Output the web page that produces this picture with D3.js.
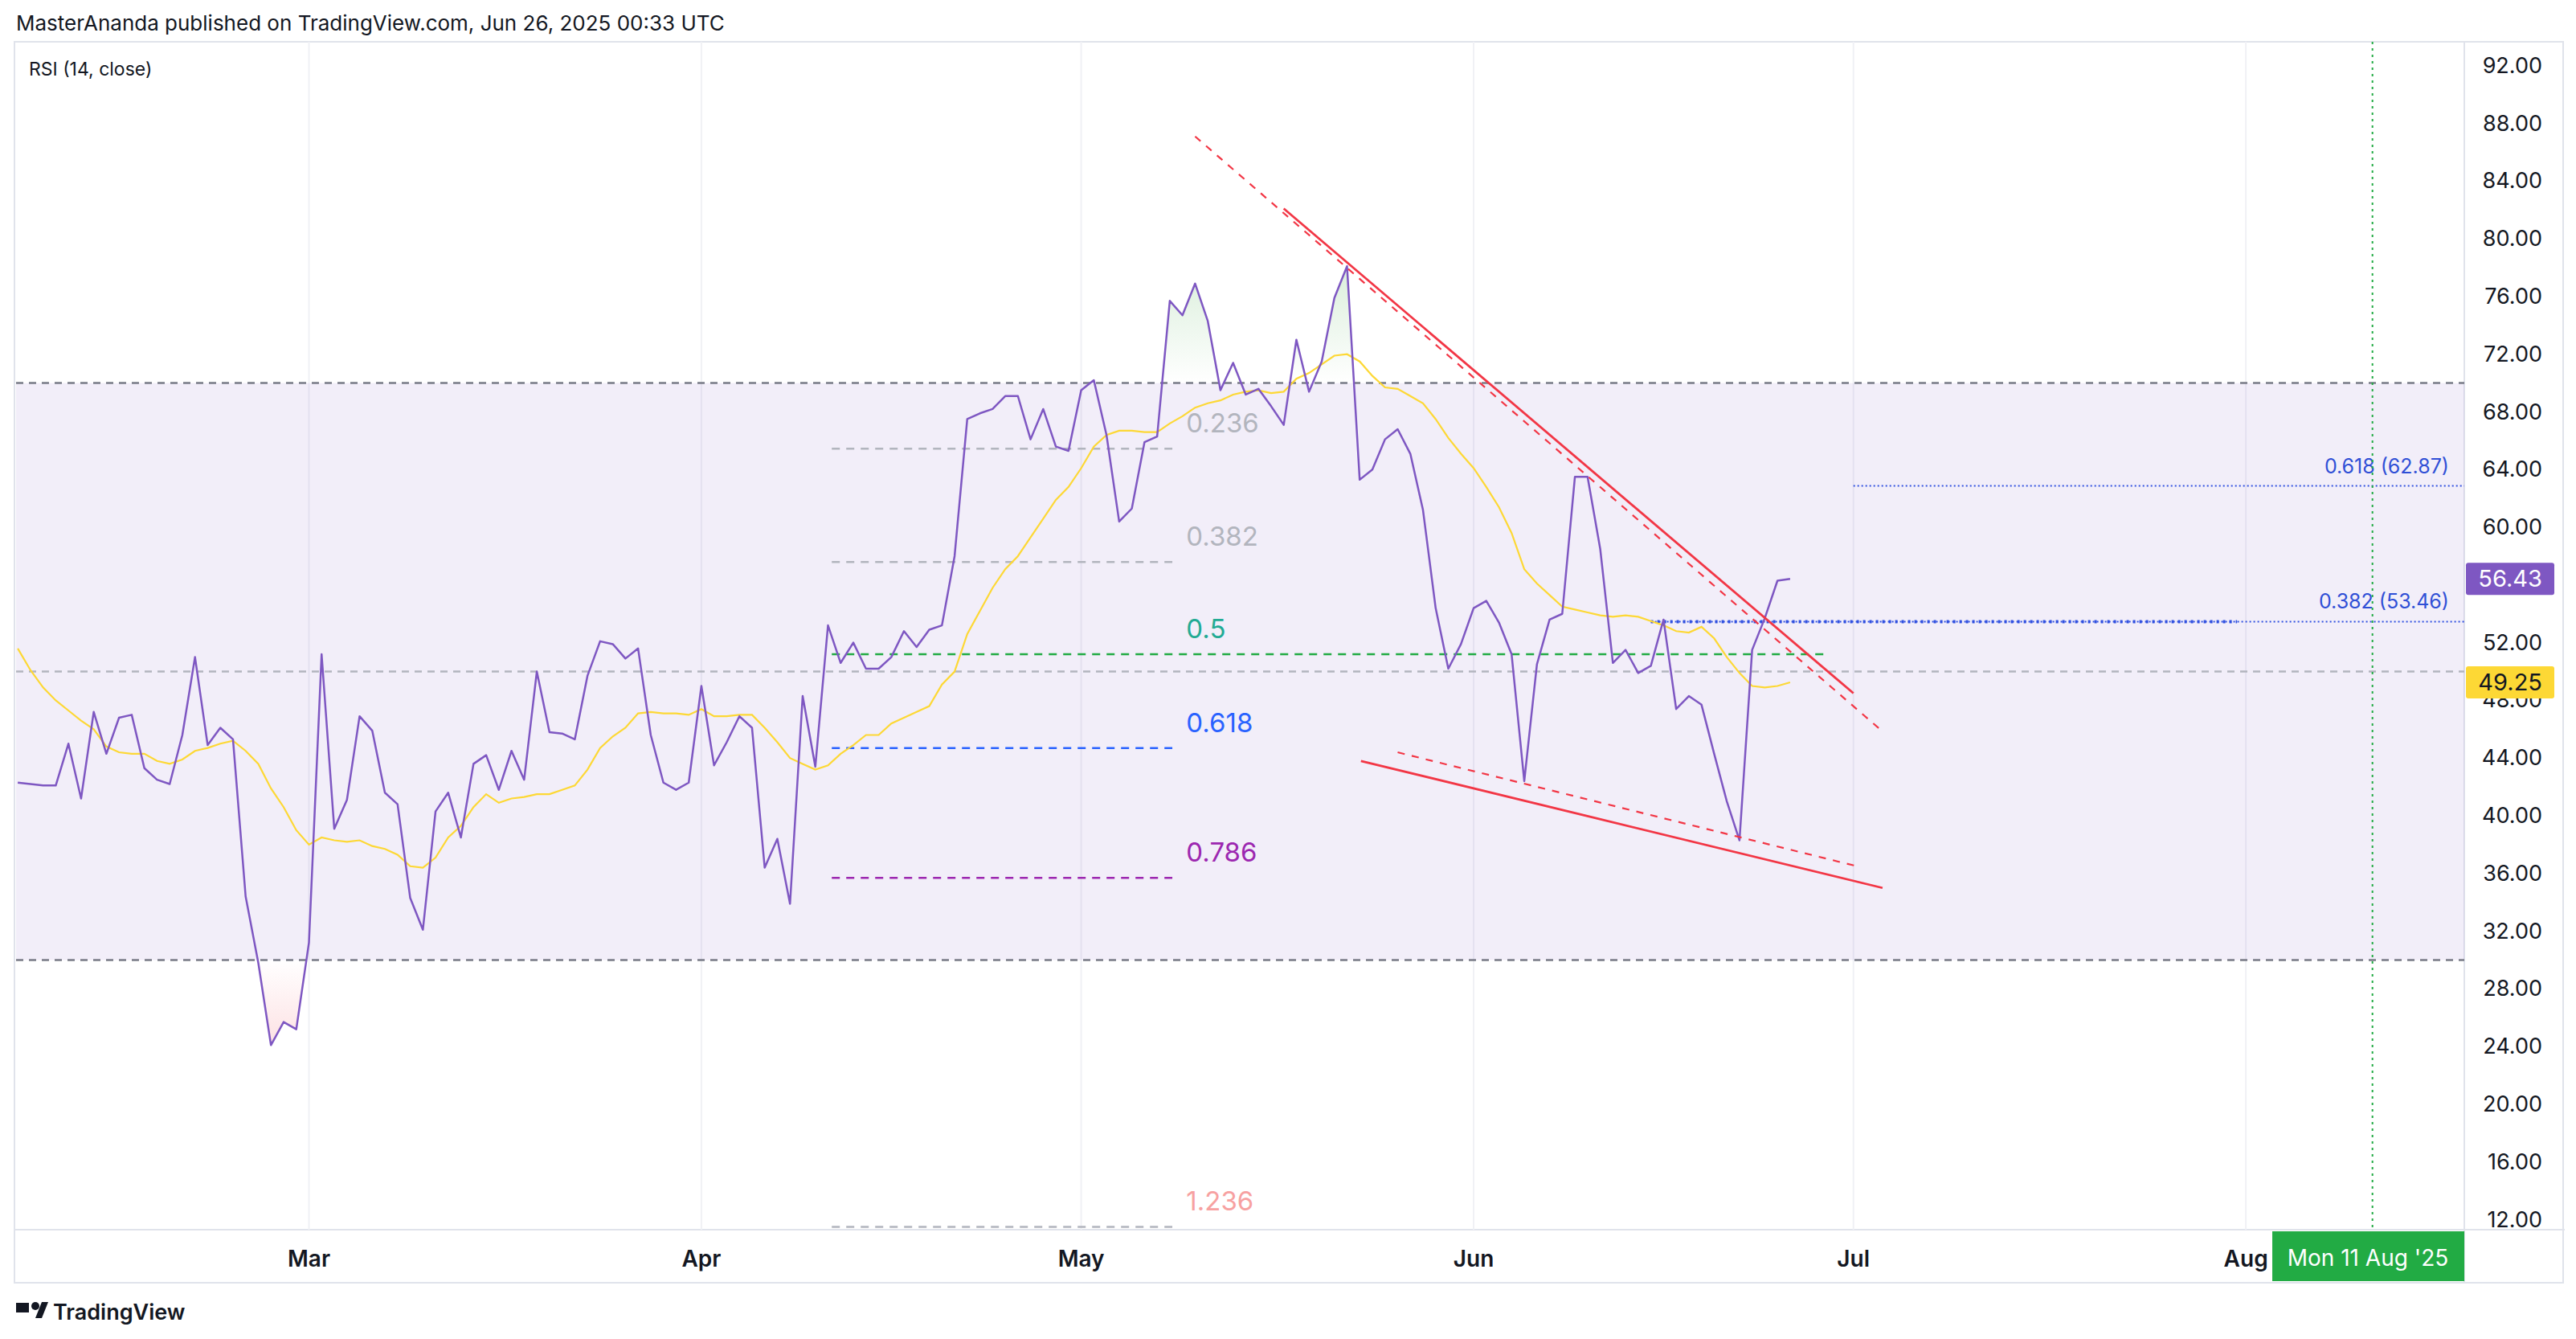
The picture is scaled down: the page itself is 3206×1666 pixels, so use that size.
<!DOCTYPE html>
<html><head><meta charset="utf-8">
<script src="https://cdn.jsdelivr.net/npm/d3@7"></script>
<style>body{margin:0;background:#fff}svg{display:block}text{font-family:Inter,"Noto Sans",sans-serif}</style>
</head><body><svg id="c" width="3206" height="1666"></svg>
<script>
// day index 0 = Feb 6, 2025
const rsi = [42.3,42.2,42.1,42.1,45.0,41.2,47.2,44.3,46.8,47.0,43.3,42.5,42.2,45.6,51.0,44.9,46.1,45.3,34.4,29.8,24.1,25.7,25.2,
31.2,51.2,39.1,41.1,46.9,45.9,41.6,40.8,34.3,32.1,40.3,41.6,38.5,43.6,44.2,41.8,44.5,42.5,50.0,45.8,45.7,45.3,49.7,52.1,51.9,50.9,51.6,45.6,42.3,41.8,42.3,
49.0,43.5,45.1,46.9,46.1,36.4,38.4,33.9,48.3,43.4,53.2,50.6,52.0,50.2,50.2,51.0,52.8,51.7,52.9,53.2,58.0,67.5,67.9,68.2,69.1,69.1,66.1,68.2,65.6,65.3,
69.5,70.2,66.4,60.4,61.3,65.9,66.3,75.7,74.7,76.9,74.3,69.5,71.4,69.2,69.6,68.4,67.1,73.0,69.4,71.5,75.9,78.1,63.3,64.0,66.1,66.8,65.1,61.2,54.4,50.2,51.9,
54.4,54.9,53.4,51.2,42.4,50.5,53.6,54.0,63.5,63.5,58.5,50.6,51.5,49.9,50.4,53.6,47.4,48.3,47.7,44.3,41.0,38.3,51.5,53.7,56.3,56.43];
const rsiMA = [51.6,50.1,48.9,48.0,47.3,46.6,46.0,44.8,44.4,44.3,44.3,43.8,43.6,43.9,44.5,44.7,45.0,45.2,44.5,43.6,41.9,40.6,39.0,
38.0,38.5,38.3,38.2,38.3,37.9,37.7,37.3,36.5,36.4,37.1,38.5,39.3,40.6,41.5,40.9,41.2,41.3,41.5,41.5,41.8,42.1,43.2,44.7,45.5,46.1,47.1,47.2,47.1,47.1,47.0,
47.4,46.9,46.9,47.0,47.0,46.1,45.1,44.0,43.6,43.2,43.5,44.3,44.9,45.6,45.6,46.4,46.8,47.2,47.6,49.1,50.0,52.6,54.2,55.8,57.1,58.0,59.3,60.6,61.9,62.8,
64.1,65.6,66.4,66.7,66.7,66.6,66.6,67.2,67.7,68.3,68.6,68.8,69.2,69.4,69.5,69.3,69.4,70.3,70.7,71.3,71.9,72.0,71.5,70.5,69.7,69.6,69.1,68.6,67.5,66.2,65.1,
64.1,62.8,61.4,59.6,57.1,56.1,55.3,54.5,54.3,54.1,53.9,53.8,53.9,53.8,53.5,53.2,52.8,52.7,53.1,52.3,51.0,49.9,49.0,48.9,49.0,49.25];
const monthTicks = [{i:23,l:"Mar"},{i:54,l:"Apr"},{i:84,l:"May"},{i:115,l:"Jun"},{i:145,l:"Jul"},{i:176,l:"Aug"}];
const yTicks = [12,16,20,24,28,32,36,40,44,48,52,60,64,68,72,76,80,84,88,92];
const fibLevels = [0.236,0.382,0.5,0.618,0.786,1.236];
const fibValues = [65.45,57.6,51.2,44.7,35.7,11.5];
const fibColors = ["#b2b5be","#b2b5be","#22ab94","#2962ff","#9c27b0","#f7a1a1"];
const fibLineColors = ["#b2b5be","#b2b5be","#22ab44","#2962ff","#9c27b0","#b2b5be"];
const trendLines = [ // [i0,v0,i1,v1,dashed]
 [100.0,82.1,145.0,48.5,false],[93.0,87.1,147.1,46.0,true],[106.1,43.8,147.3,35.0,false],[109.0,44.4,145.3,36.5,true]];
const targetLevels = [{l:"0.618 (62.87)",v:62.87,i0:145},{l:"0.382 (53.46)",v:53.46,i0:129}];
const markerIdx = 186;

const svg = d3.select("#c");
const L=20, R=3067, T=52, B=1530;
const x = d3.scaleLinear().domain([23,84]).range([384.5,1345.6]);
const y = d3.scaleLinear().domain([12,92]).range([1517.5,81.8]);
const lineC = "#7e57c2", maC = "#fdd835";

svg.append("rect").attr("x",L-2).attr("y",T).attr("width",3192-L).attr("height",1596-T).attr("fill","none").attr("stroke","#e0e3eb").attr("stroke-width",2);
svg.append("line").attr("x1",L-2).attr("x2",3192).attr("y1",B).attr("y2",B).attr("stroke","#e0e3eb").attr("stroke-width",2);
svg.append("line").attr("x1",R).attr("x2",R).attr("y1",T).attr("y2",1596).attr("stroke","#e0e3eb").attr("stroke-width",2);
const defs = svg.append("defs");
defs.append("clipPath").attr("id","pc").append("rect").attr("x",L).attr("y",T).attr("width",R-L).attr("height",B-T);
const g = svg.append("g").attr("clip-path","url(#pc)");
monthTicks.forEach(t=>g.append("line").attr("x1",x(t.i)).attr("x2",x(t.i)).attr("y1",T).attr("y2",B).attr("stroke","#f0f1f5").attr("stroke-width",2));
g.append("rect").attr("x",L).attr("width",R-L).attr("y",y(70)).attr("height",y(30)-y(70)).attr("fill","rgba(126,87,194,0.1)");
[[70,"#787b86"],[30,"#787b86"],[50,"#b2b5be"]].forEach(([v,c])=>g.append("line").attr("x1",L).attr("x2",R).attr("y1",y(v)).attr("y2",y(v)).attr("stroke",c).attr("stroke-width",2.5).attr("stroke-dasharray","9,7"));
const gg = defs.append("linearGradient").attr("id","gG").attr("x1",0).attr("x2",0).attr("gradientUnits","userSpaceOnUse").attr("y1",y(80)).attr("y2",y(70));
gg.append("stop").attr("offset",0).attr("stop-color","rgba(76,175,80,0.25)");gg.append("stop").attr("offset",1).attr("stop-color","rgba(76,175,80,0)");
const rg = defs.append("linearGradient").attr("id","rG").attr("x1",0).attr("x2",0).attr("gradientUnits","userSpaceOnUse").attr("y1",y(30)).attr("y2",y(22));
rg.append("stop").attr("offset",0).attr("stop-color","rgba(242,54,69,0)");rg.append("stop").attr("offset",1).attr("stop-color","rgba(242,54,69,0.2)");
defs.append("clipPath").attr("id","above").append("rect").attr("x",L).attr("y",T).attr("width",R-L).attr("height",y(70)-T);
defs.append("clipPath").attr("id","below").append("rect").attr("x",L).attr("y",y(30)).attr("width",R-L).attr("height",B-y(30));
g.append("path").datum(rsi).attr("clip-path","url(#above)").attr("fill","url(#gG)").attr("d",d3.area().x((d,i)=>x(i)).y0(y(70)).y1(d=>y(d)));
g.append("path").datum(rsi).attr("clip-path","url(#below)").attr("fill","url(#rG)").attr("d",d3.area().x((d,i)=>x(i)).y0(y(30)).y1(d=>y(d)));
fibLevels.forEach((f,k)=>{
  const i1 = f===0.5?143:91.2;
  g.append("line").attr("x1",x(64.3)).attr("x2",x(i1)).attr("y1",y(fibValues[k])).attr("y2",y(fibValues[k])).attr("stroke",fibLineColors[k]).attr("stroke-width",2.5).attr("stroke-dasharray","10,8");
  g.append("text").attr("x",x(92.3)).attr("y",y(fibValues[k])-20).attr("fill",fibColors[k]).attr("font-size",33).text(String(f));
});
targetLevels.forEach(t=>{
  g.append("line").attr("x1",x(t.i0)).attr("x2",R).attr("y1",y(t.v)).attr("y2",y(t.v)).attr("stroke","#3050e0").attr("stroke-width",2).attr("stroke-dasharray","2,3");
  g.append("text").attr("x",3048).attr("y",y(t.v)-16).attr("text-anchor","end").attr("fill","#2f4fd6").attr("font-size",25).text(t.l);
});
g.append("line").attr("x1",x(129)).attr("x2",x(175.3)).attr("y1",y(53.46)).attr("y2",y(53.46)).attr("stroke","#3050e0").attr("stroke-width",4).attr("stroke-dasharray","3,5");
g.append("line").attr("x1",x(markerIdx)).attr("x2",x(markerIdx)).attr("y1",T).attr("y2",B).attr("stroke","#22ab44").attr("stroke-width",2).attr("stroke-dasharray","3,5");
g.append("path").datum(rsiMA).attr("fill","none").attr("stroke",maC).attr("stroke-width",2.2).attr("d",d3.line().x((d,i)=>x(i)).y(d=>y(d)));
g.append("path").datum(rsi).attr("fill","none").attr("stroke",lineC).attr("stroke-width",2.5).attr("stroke-linejoin","round").attr("d",d3.line().x((d,i)=>x(i)).y(d=>y(d)));
trendLines.forEach(([a,b,c,d,dash])=>g.append("line").attr("x1",x(a)).attr("y1",y(b)).attr("x2",x(c)).attr("y2",y(d)).attr("stroke","#f23645").attr("stroke-width",dash?2.2:2.8).attr("stroke-dasharray",dash?"9,9":null));
yTicks.forEach(v=>svg.append("text").attr("x",3164).attr("y",y(v)+9).attr("text-anchor","end").attr("fill","#131722").attr("font-size",27).text(v.toFixed(2)));
[[56.43,lineC,"#fff"],[49.25,maC,"#131722"]].forEach(([v,bg,fc])=>{
  svg.append("rect").attr("x",R+2).attr("y",y(v)-20).attr("width",110).attr("height",40).attr("rx",3).attr("fill",bg);
  svg.append("text").attr("x",3164).attr("y",y(v)+10).attr("text-anchor","end").attr("fill",fc).attr("font-size",29).text(v.toFixed(2));
});
monthTicks.forEach(t=>svg.append("text").attr("x",x(t.i)).attr("y",1576).attr("text-anchor","middle").attr("fill","#131722").attr("font-size",28).attr("font-weight",600).text(t.l));
svg.append("rect").attr("x",2828).attr("y",1532).attr("width",239).attr("height",62).attr("fill","#22ab44");
svg.append("text").attr("x",2947).attr("y",1575).attr("text-anchor","middle").attr("fill","#fff").attr("font-size",28).text("Mon 11 Aug '25");
svg.append("text").attr("x",20).attr("y",38).attr("fill","#131722").attr("font-size",26).text("MasterAnanda published on TradingView.com, Jun 26, 2025 00:33 UTC");
svg.append("text").attr("x",36).attr("y",94).attr("fill","#131722").attr("font-size",23).text("RSI (14, close)");
svg.append("text").attr("x",66).attr("y",1642).attr("fill","#131722").attr("font-size",27).attr("font-weight",600).text("TradingView");
svg.append("rect").attr("x",20).attr("y",1621).attr("width",16).attr("height",12).attr("fill","#131722");
svg.append("circle").attr("cx",44).attr("cy",1625).attr("r",5).attr("fill","#131722");
svg.append("path").attr("d","M44 1640 L52 1620 L60 1620 L52 1640 Z").attr("fill","#131722");
</script></body></html>
